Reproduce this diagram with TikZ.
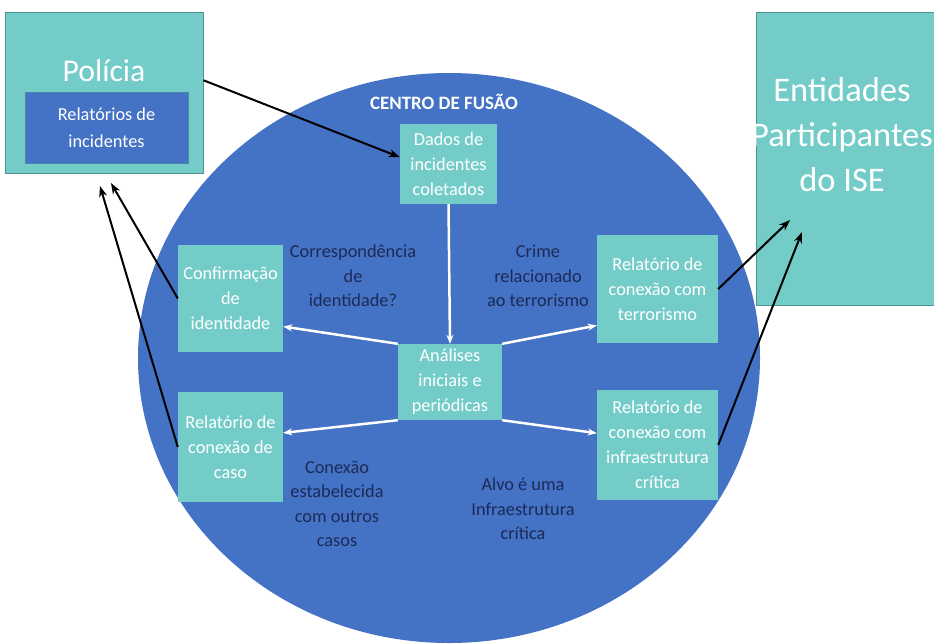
\documentclass[tikz,border=0pt]{standalone}
\usepackage{fontspec}
\setmainfont{Carlito}
\usetikzlibrary{arrows.meta}

\definecolor{tealbox}{HTML}{74CCC8}
\definecolor{fusionblue}{HTML}{4472C4}
\definecolor{darktext}{HTML}{1C2A58}
\definecolor{boxline}{HTML}{4F9491}

\begin{document}
\begin{tikzpicture}[x=1pt,y=-1pt,
	cell/.style={fill=tealbox,text=white,align=center,inner sep=0pt,font=\fontsize{18.3}{25}\selectfont},
	note/.style={text=darktext,align=center,inner sep=0pt,font=\fontsize{18.3}{24.5}\selectfont},
	blackarrow/.style={-{Stealth[length=11pt,width=8pt]},line width=2pt,black},
	whitearrow/.style={-{Stealth[length=9pt,width=7pt]},line width=2.5pt,white}]
	
	\useasboundingbox (0,0) rectangle (934,643);
	\clip (0,0) rectangle (934,643);
	
	% centro de fusao
	\fill[fusionblue] (449,358) ellipse [x radius=311, y radius=285];
	\node[text=white,font=\bfseries\fontsize{18.9}{22}\selectfont] (centro) at (444,102) {CENTRO DE FUSÃO};
	
	% policia
	\node[cell,draw=boxline,line width=1pt,minimum width=198pt,minimum height=161pt] (policia) at (104,92.5) {};
	\node[text=white,inner sep=0pt,font=\fontsize{31.7}{38}\selectfont] (policiatitle) at (104,71) {Polícia};
	\node[cell,fill=fusionblue,draw=boxline!60!fusionblue,minimum width=163pt,minimum height=71pt,font=\fontsize{18.3}{27}\selectfont] (relatorios) at (106.5,127.5) {Relatórios de\\incidentes};
	
	% entidades
	\node[cell,draw=boxline,line width=1pt,minimum width=186pt,minimum height=293pt] (entidades) at (849,158.5) {};
	\node[text=white,align=center,inner sep=0pt,font=\fontsize{34.5}{45}\selectfont] (entidadestext) at (842,135) {Entidades\\Participantes\\do ISE};
	
	% caixas
	\node[cell,minimum width=97pt,minimum height=80pt] (dados) at (448.5,164) {Dados de\\incidentes\\coletados};
	\node[cell,minimum width=104pt,minimum height=76pt] (analises) at (450,382) {Análises\\iniciais e\\periódicas};
	\node[cell,minimum width=105pt,minimum height=107pt] (conf) at (230.5,298.5) {Confirmação\\de\\identidade};
	\node[cell,minimum width=105pt,minimum height=110pt] (caso) at (230.5,447) {Relatório de\\conexão de\\caso};
	\node[cell,minimum width=121pt,minimum height=108pt] (terr) at (657.5,289) {Relatório de\\conexão com\\terrorismo};
	\node[cell,minimum width=121pt,minimum height=110pt] (infra) at (657.5,445) {Relatório de\\conexão com\\infraestrutura\\crítica};
	
	\node[note] (corresp) at (353,276) {Correspondência\\de\\identidade?};
	\node[note] (crime) at (538,276) {Crime\\relacionado\\ao terrorismo};
	\node[note] (conexao) at (337,504) {Conexão\\estabelecida\\com outros\\casos};
	\node[note] (alvo) at (523,509) {Alvo é uma\\Infraestrutura\\crítica};
	
	\coordinate (polA) at (111,183);
	\coordinate (polB) at (100,186);
	\coordinate (entA) at (790,220);
	\coordinate (entB) at (802,232);
	
	% setas
	\draw[blackarrow] (policia.7) -- (dados.172);
	\draw[whitearrow] (dados.south) -- (analises.north);
	\draw[whitearrow] (analises.north west) -- (conf.-28);
	\draw[whitearrow] (analises.north east) -- (terr.211);
	\draw[whitearrow] (analises.south west) -- (caso.15);
	\draw[whitearrow] (analises.south east) -- (infra.169);
	\draw[blackarrow] (conf.west) -- (polA);
	\draw[blackarrow] (caso.west) -- (polB);
	\draw[blackarrow] (terr.east) -- (entA);
	\draw[blackarrow] (infra.east) -- (entB);
	
\end{tikzpicture}
\end{document}
